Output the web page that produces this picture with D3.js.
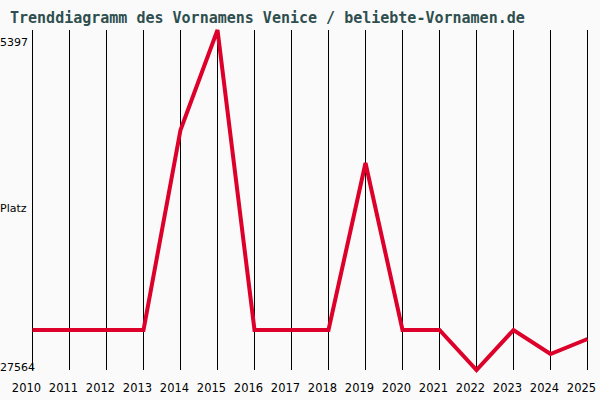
<!DOCTYPE html>
<html><head><meta charset="utf-8">
<script src="https://cdn.jsdelivr.net/npm/d3@7"></script>
<style>body{margin:0;background:#fafafa}</style>
</head><body>
<svg id="c" width="600" height="400"></svg>
<script>
const years = [2010,2011,2012,2013,2014,2015,2016,2017,2018,2019,2020,2021,2022,2023,2024,2025];
const ranks = [24956,24956,24956,24956,11917,5397,24956,24956,24956,14068,24956,24956,27564,24956,26521,25543];
const yTicks = [5397, 27564];

const svg = d3.select('#c');
svg.append('rect').attr('width',600).attr('height',400).attr('fill','#fafafa');

const x = d3.scaleLinear().domain([2010,2025]).range([32.5,587.5]);
const y = d3.scaleLinear().domain([5397,27564]).range([30,370]);

svg.append('text').attr('x',10).attr('y',23)
  .attr('font-family','DejaVu Sans Mono, monospace').attr('font-weight','bold')
  .attr('font-size',15).attr('fill','#2f4f4f')
  .text('Trenddiagramm des Vornamens Venice / beliebte-Vornamen.de');

svg.selectAll('.grid').data(years).join('line')
  .attr('x1',d=>x(d)).attr('x2',d=>x(d)).attr('y1',30).attr('y2',370)
  .attr('stroke','#000').attr('stroke-width',1);

svg.selectAll('.yr').data(years).join('text')
  .attr('x',d=>x(d) - 6).attr('y',392).attr('text-anchor','middle')
  .attr('font-family','DejaVu Sans, sans-serif').attr('font-size',11.5).attr('fill','#000')
  .text(d=>d);

svg.selectAll('.yt').data(yTicks).join('text')
  .attr('x',0).attr('y',(d,i)=>i===0?y(d)+16:y(d)+1)
  .attr('font-family','DejaVu Sans, sans-serif').attr('font-size',11).attr('fill','#000')
  .text(d=>d);
svg.append('text').attr('x',0).attr('y',212)
  .attr('font-family','DejaVu Sans, sans-serif').attr('font-size',11).text('Platz');

svg.append('path').datum(ranks)
  .attr('d',d3.line().x((d,i)=>x(years[i])).y(d=>y(d)))
  .attr('fill','none').attr('stroke','#dc002a').attr('stroke-width',4);
</script>
</body></html>
